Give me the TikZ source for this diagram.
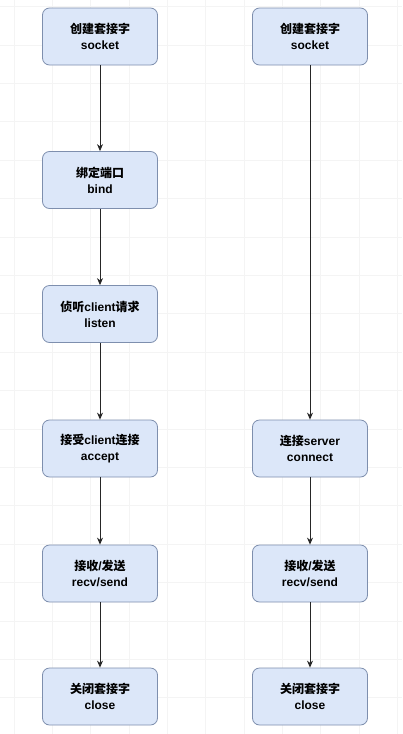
\documentclass[tikz,border=0pt]{standalone}
\usepackage{fontspec}
\setmainfont{Liberation Sans}
\newfontfamily\cjk{Noto Sans CJK SC}
\usetikzlibrary{arrows.meta}
\definecolor{boxfill}{HTML}{DCE7F9}
\definecolor{boxdraw}{HTML}{7E8FAE}
\definecolor{gridc}{HTML}{F4F4F4}
\tikzset{
  box/.style={draw=boxdraw, fill=boxfill, rounded corners=7pt, line width=0.8pt,
    minimum width=115pt, minimum height=57pt, align=center, inner sep=0pt,
    font=\fontsize{12pt}{16pt}\selectfont\bfseries},
  conn/.style={draw=black!85, line width=0.9pt, -{Stealth[length=7pt,width=6pt]}}
}
\begin{document}
\begin{tikzpicture}[x=1pt,y=-1pt]
\useasboundingbox (0,0) rectangle (402,734);
\fill[white] (0,0) rectangle (402,734);
\foreach \i in {0,...,10} {\draw[gridc, line width=0.7pt] (14+38.33*\i,0) -- (14+38.33*\i,734);}
\foreach \j in {0,...,19} {\draw[gridc, line width=0.7pt] (0,6.5+38.4*\j) -- (402,6.5+38.4*\j);}
% left column
\node[box] (l1) at (100,36.5) {{\cjk 创建套接字}\\socket};
\node[box] (l2) at (100,180) {{\cjk 绑定端口}\\bind};
\node[box] (l3) at (100,314) {{\cjk 侦听}client{\cjk 请求}\\listen};
\node[box] (l4) at (100,448.5) {{\cjk 接受}client{\cjk 连接}\\accept};
\node[box] (l5) at (100,573.5) {{\cjk 接收}/{\cjk 发送}\\recv/send};
\node[box] (l6) at (100,696.5) {{\cjk 关闭套接字}\\close};
% right column
\node[box] (r1) at (310,36.5) {{\cjk 创建套接字}\\socket};
\node[box] (r4) at (310,448.5) {{\cjk 连接}server\\connect};
\node[box] (r5) at (310,573.5) {{\cjk 接收}/{\cjk 发送}\\recv/send};
\node[box] (r6) at (310,696.5) {{\cjk 关闭套接字}\\close};
\draw[conn] (l1) -- (l2);
\draw[conn] (l2) -- (l3);
\draw[conn] (l3) -- (l4);
\draw[conn] (l4) -- (l5);
\draw[conn] (l5) -- (l6);
\draw[conn] (r1) -- (r4);
\draw[conn] (r4) -- (r5);
\draw[conn] (r5) -- (r6);
\end{tikzpicture}
\end{document}
